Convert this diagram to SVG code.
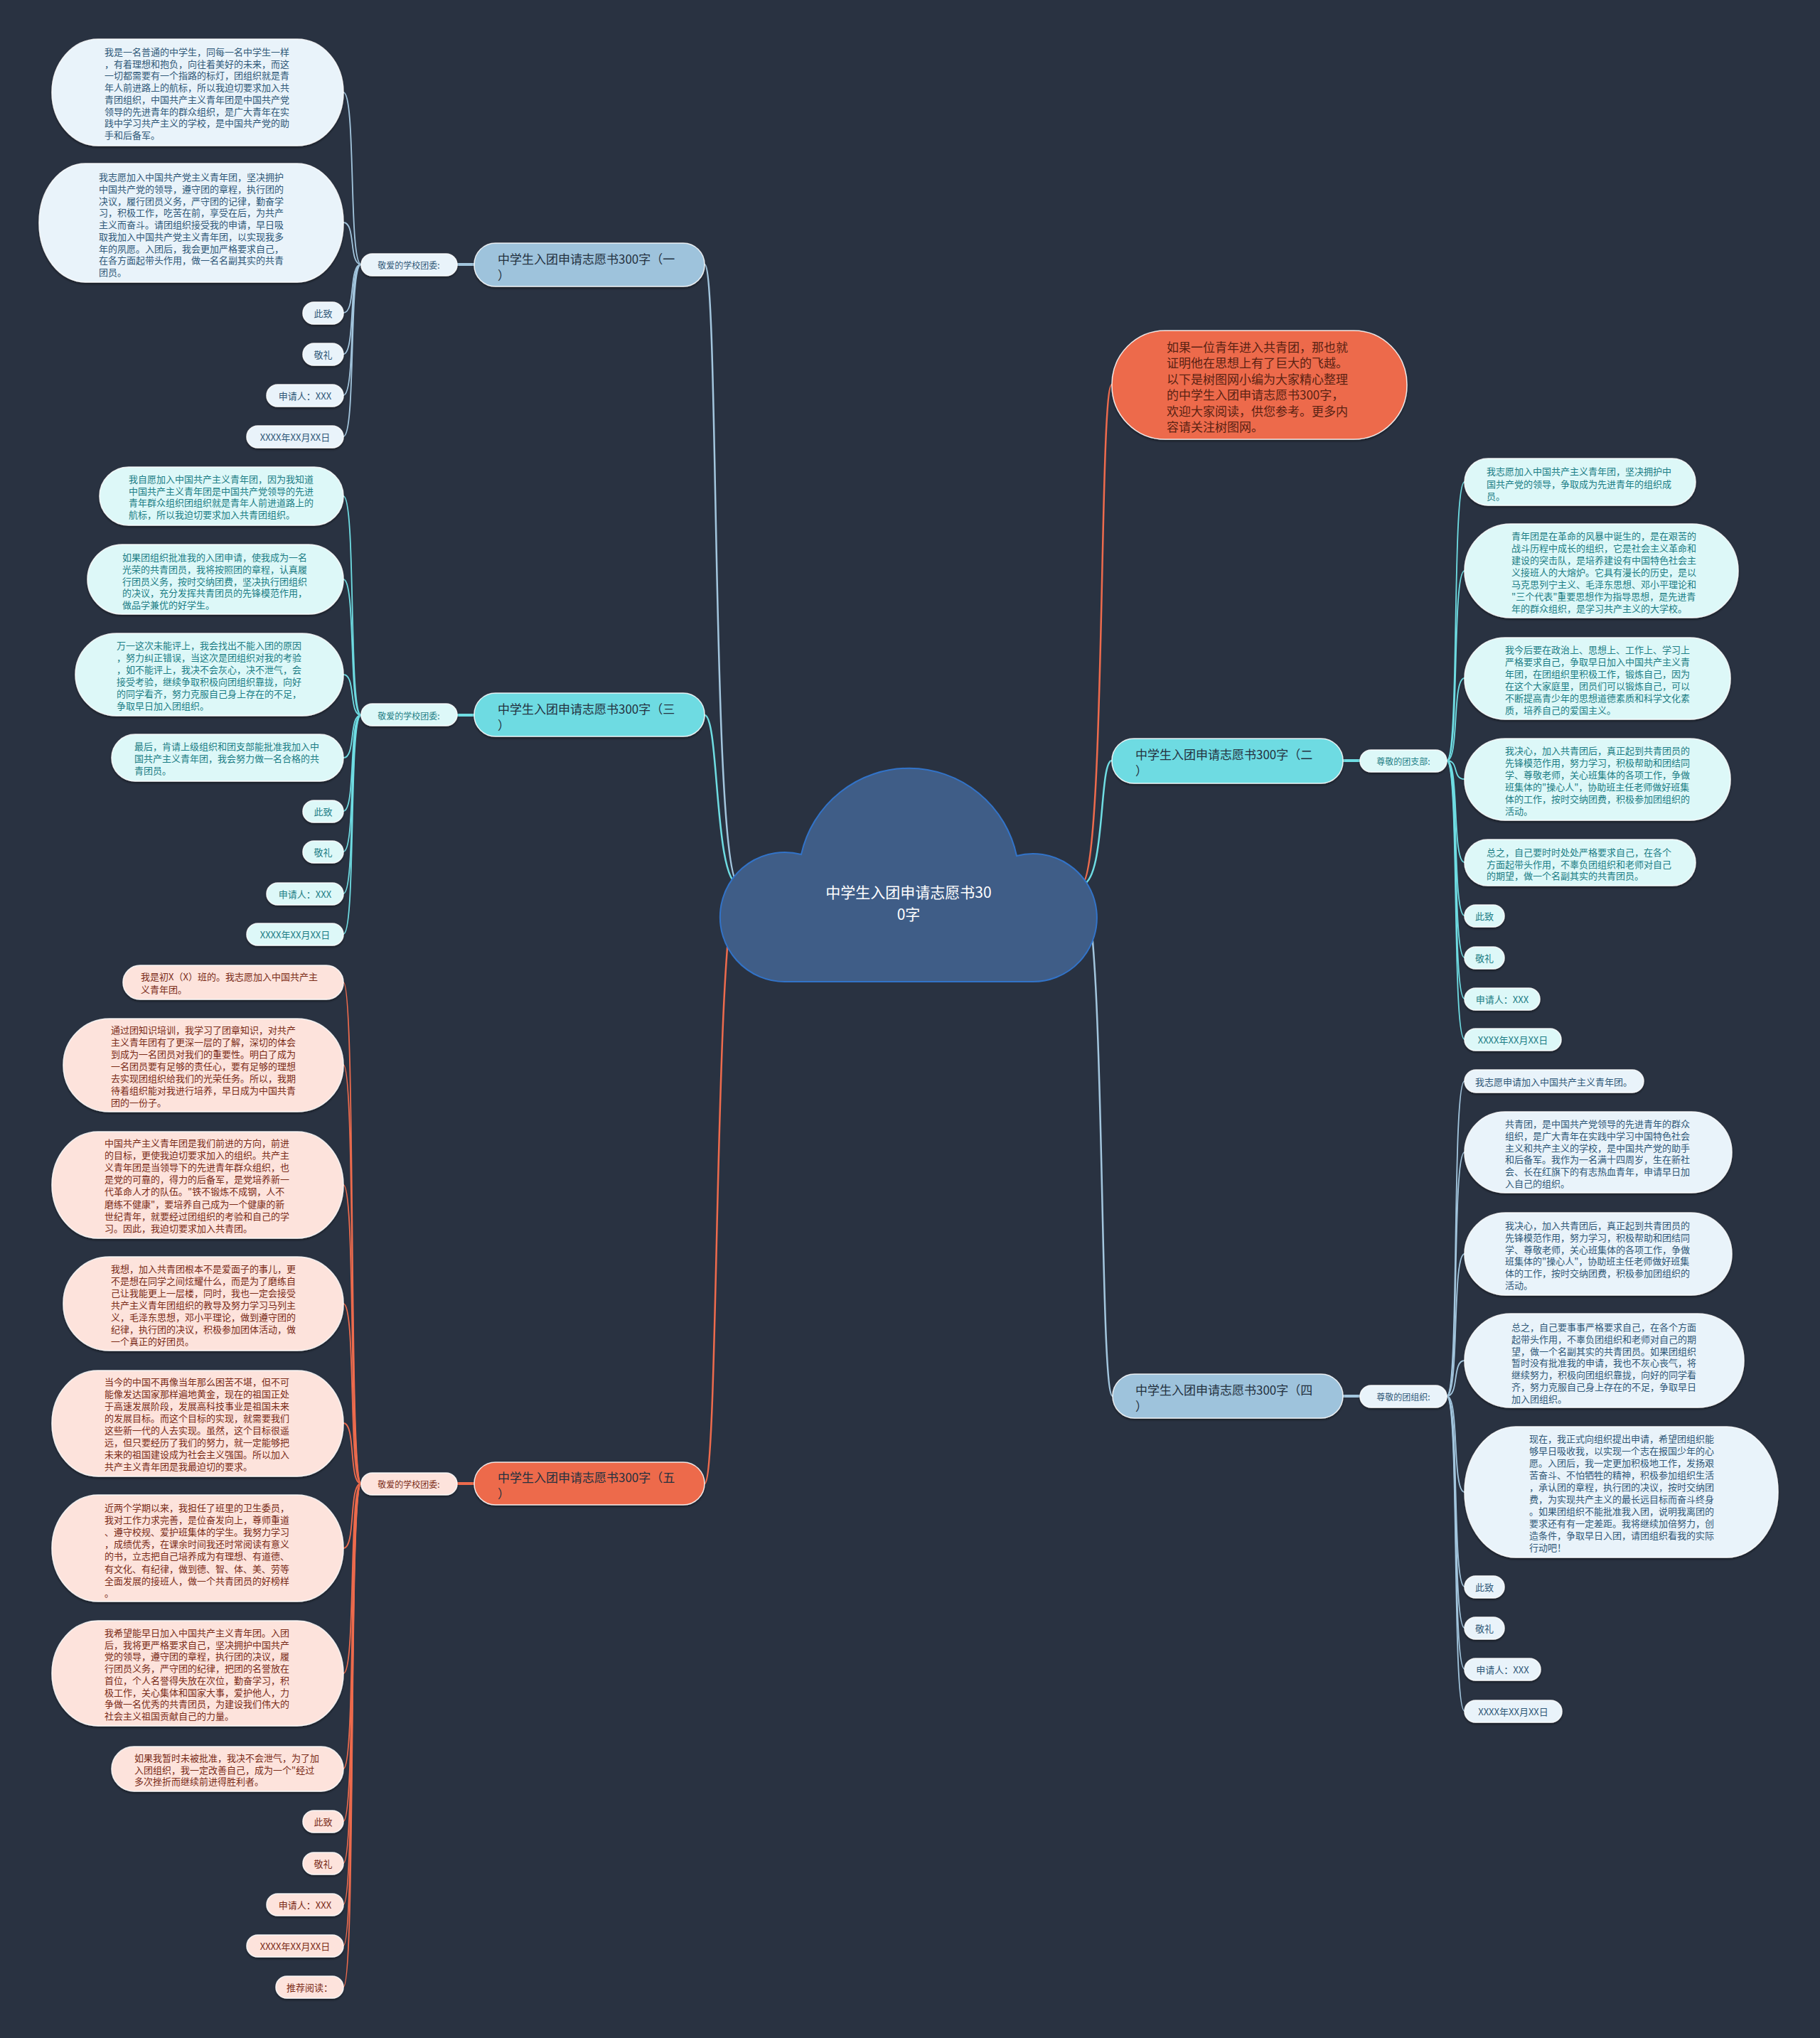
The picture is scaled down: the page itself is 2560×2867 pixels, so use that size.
<svg xmlns="http://www.w3.org/2000/svg" width="2560" height="2867" viewBox="0 0 2560 2867">
<defs>
<filter id="sh" x="-10%" y="-20%" width="120%" height="150%"><feDropShadow dx="0" dy="2" stdDeviation="1.5" flood-color="#000" flood-opacity="0.45"/></filter>
</defs>
<style>
.ln{fill:none;stroke-linecap:round}
.c1{stroke:#a3c6de}.c3{stroke:#6fdde3}.c5{stroke:#ee6b4d}
.tr{stroke-width:2.5}.lk{stroke-width:1.8}.bar{stroke-width:4}
.nd{stroke:#ffffff;stroke-opacity:.85;stroke-width:1.5;filter:url(#sh)}
.fb{fill:#9ec3dc}.fbl{fill:#e9f3fa}.fc{fill:#6edbe2}.fcl{fill:#ddf8f8}.fo{fill:#ed6a4c}.fol{fill:#fde3dc}
.t{font-family:"Noto Sans CJK SC","Noto Sans",sans-serif;dominant-baseline:central}
.s13{font-size:13px}.s12{font-size:12px}.s17{font-size:17px}.s21{font-size:21px}
.kb{fill:#2f5878}.kc{fill:#1b7d85}.ko{fill:#7a2b17}.kd{fill:#24313f}.ki{fill:#5a2213}.kw{fill:#ffffff}
.mid{text-anchor:middle}
</style>
<rect x="0" y="0" width="2560" height="2867" fill="#293241"/>

<g id="connectors">
<path class="ln c1 tr" d="M991 372 C1012 372 1000 1245 1040 1245"/>
<path class="ln c3 tr" d="M991 1006 C1012 1006 1004 1245 1040 1245"/>
<path class="ln c5 tr" d="M991 2087 C1012 2087 1004 1245 1040 1245"/>
<path class="ln c5 tr" d="M1564 541 C1545 541 1556 1245 1520 1245"/>
<path class="ln c3 tr" d="M1564 1070 C1545 1070 1556 1245 1520 1245"/>
<path class="ln c1 tr" d="M1565 1964 C1545 1964 1556 1245 1520 1245"/>
<path class="ln c1 bar" d="M643 372 L667 372"/>
<path class="ln c3 bar" d="M643 1006 L667 1006"/>
<path class="ln c5 bar" d="M643 2087 L667 2087"/>
<path class="ln c3 bar" d="M1889 1070 L1913 1070"/>
<path class="ln c1 bar" d="M1889 1964 L1913 1964"/>
<!-- branch 1 leaves -->
<path class="ln c1 lk" d="M508 372 C490 372 501 130 483 130"/>
<path class="ln c1 lk" d="M508 372 C490 372 501 313 483 313"/>
<path class="ln c1 lk" d="M508 372 C490 372 501 440 483 440"/>
<path class="ln c1 lk" d="M508 372 C490 372 501 498 483 498"/>
<path class="ln c1 lk" d="M508 372 C490 372 501 556 483 556"/>
<path class="ln c1 lk" d="M508 372 C490 372 501 614 483 614"/>
<!-- branch 3 leaves -->
<path class="ln c3 lk" d="M508 1006 C490 1006 501 698 483 698"/>
<path class="ln c3 lk" d="M508 1006 C490 1006 501 815 483 815"/>
<path class="ln c3 lk" d="M508 1006 C490 1006 501 949 483 949"/>
<path class="ln c3 lk" d="M508 1006 C490 1006 501 1066 483 1066"/>
<path class="ln c3 lk" d="M508 1006 C490 1006 501 1141 483 1141"/>
<path class="ln c3 lk" d="M508 1006 C490 1006 501 1198 483 1198"/>
<path class="ln c3 lk" d="M508 1006 C490 1006 501 1257 483 1257"/>
<path class="ln c3 lk" d="M508 1006 C490 1006 501 1314 483 1314"/>
<!-- branch 5 leaves -->
<path class="ln c5 lk" d="M508 2087 C490 2087 501 1382 483 1382"/>
<path class="ln c5 lk" d="M508 2087 C490 2087 501 1498 483 1498"/>
<path class="ln c5 lk" d="M508 2087 C490 2087 501 1667 483 1667"/>
<path class="ln c5 lk" d="M508 2087 C490 2087 501 1834 483 1834"/>
<path class="ln c5 lk" d="M508 2087 C490 2087 501 2002 483 2002"/>
<path class="ln c5 lk" d="M508 2087 C490 2087 501 2178 483 2178"/>
<path class="ln c5 lk" d="M508 2087 C490 2087 501 2354 483 2354"/>
<path class="ln c5 lk" d="M508 2087 C490 2087 501 2488 483 2488"/>
<path class="ln c5 lk" d="M508 2087 C490 2087 501 2562 483 2562"/>
<path class="ln c5 lk" d="M508 2087 C490 2087 501 2621 483 2621"/>
<path class="ln c5 lk" d="M508 2087 C490 2087 501 2679 483 2679"/>
<path class="ln c5 lk" d="M508 2087 C490 2087 501 2737 483 2737"/>
<path class="ln c5 lk" d="M508 2087 C490 2087 501 2795 483 2795"/>
<!-- branch 2 leaves -->
<path class="ln c3 lk" d="M2035 1070 C2053 1070 2042 678 2060 678"/>
<path class="ln c3 lk" d="M2035 1070 C2053 1070 2042 803 2060 803"/>
<path class="ln c3 lk" d="M2035 1070 C2053 1070 2042 954 2060 954"/>
<path class="ln c3 lk" d="M2035 1070 C2053 1070 2042 1096 2060 1096"/>
<path class="ln c3 lk" d="M2035 1070 C2053 1070 2042 1213 2060 1213"/>
<path class="ln c3 lk" d="M2035 1070 C2053 1070 2042 1288 2060 1288"/>
<path class="ln c3 lk" d="M2035 1070 C2053 1070 2042 1347 2060 1347"/>
<path class="ln c3 lk" d="M2035 1070 C2053 1070 2042 1405 2060 1405"/>
<path class="ln c3 lk" d="M2035 1070 C2053 1070 2042 1462 2060 1462"/>
<!-- branch 4 leaves -->
<path class="ln c1 lk" d="M2035 1964 C2053 1964 2042 1521 2060 1521"/>
<path class="ln c1 lk" d="M2035 1964 C2053 1964 2042 1621 2060 1621"/>
<path class="ln c1 lk" d="M2035 1964 C2053 1964 2042 1764 2060 1764"/>
<path class="ln c1 lk" d="M2035 1964 C2053 1964 2042 1914 2060 1914"/>
<path class="ln c1 lk" d="M2035 1964 C2053 1964 2042 2099 2060 2099"/>
<path class="ln c1 lk" d="M2035 1964 C2053 1964 2042 2232 2060 2232"/>
<path class="ln c1 lk" d="M2035 1964 C2053 1964 2042 2290 2060 2290"/>
<path class="ln c1 lk" d="M2035 1964 C2053 1964 2042 2348 2060 2348"/>
<path class="ln c1 lk" d="M2035 1964 C2053 1964 2042 2407 2060 2407"/>
</g>

<g id="center">
<path d="M1105 1381 A91 91 0 1 1 1127 1202 A155 155 0 0 1 1430 1204 A90 90 0 1 1 1450 1381 Z" fill="#3f5d87" stroke="#3273c8" stroke-width="2"/>
<text class="t s21 kw mid"><tspan x="1278" y="1254">中学生入团申请志愿书30</tspan><tspan x="1278" y="1285">0字</tspan></text>
</g>

<!-- Branch 1 -->
<g id="b1">
<rect class="nd fb" x="667" y="342" width="324" height="61" rx="30"/>
<text class="t s17 kd"><tspan x="700" y="363">中学生入团申请志愿书300字（一</tspan><tspan x="700" y="386">）</tspan></text>
</g>
<g id="b1-label">
<rect class="nd fbl" x="508" y="357" width="135" height="31" rx="15.5"/>
<text class="t s12 kb mid" x="575" y="372">敬爱的学校团委:</text>
</g>
<g id="b1-l1">
<rect class="nd fbl" x="73" y="55" width="410" height="150" rx="65" ry="75"/>
<text class="t s13 kb"><tspan x="147" y="72">我是一名普通的中学生，同每一名中学生一样</tspan><tspan x="147" y="88.7">，有着理想和抱负，向往着美好的未来，而这</tspan><tspan x="147" y="105.4">一切都需要有一个指路的标灯，团组织就是青</tspan><tspan x="147" y="122.1">年人前进路上的航标，所以我迫切要求加入共</tspan><tspan x="147" y="138.8">青团组织，中国共产主义青年团是中国共产党</tspan><tspan x="147" y="155.5">领导的先进青年的群众组织，是广大青年在实</tspan><tspan x="147" y="172.2">践中学习共产主义的学校，是中国共产党的助</tspan><tspan x="147" y="188.9">手和后备军。</tspan></text>
</g>
<g id="b1-l2">
<rect class="nd fbl" x="55" y="230" width="428" height="167" rx="65" ry="83"/>
<text class="t s13 kb"><tspan x="139" y="248">我志愿加入中国共产党主义青年团，坚决拥护</tspan><tspan x="139" y="264.75">中国共产党的领导，遵守团的章程，执行团的</tspan><tspan x="139" y="281.5">决议，履行团员义务，严守团的记律，勤奋学</tspan><tspan x="139" y="298.25">习，积极工作，吃苦在前，享受在后，为共产</tspan><tspan x="139" y="315">主义而奋斗。请团组织接受我的申请，早日吸</tspan><tspan x="139" y="331.75">取我加入中国共产党主义青年团，以实现我多</tspan><tspan x="139" y="348.5">年的夙愿。入团后，我会更加严格要求自己，</tspan><tspan x="139" y="365.25">在各方面起带头作用，做一名名副其实的共青</tspan><tspan x="139" y="382">团员。</tspan></text>
</g>
<g id="b1-l3"><rect class="nd fbl" x="426" y="425" width="57" height="31" rx="15.5"/><text class="t s13 kb mid" x="454.5" y="440.5">此致</text></g>
<g id="b1-l4"><rect class="nd fbl" x="426" y="483" width="57" height="31" rx="15.5"/><text class="t s13 kb mid" x="454.5" y="498.5">敬礼</text></g>
<g id="b1-l5"><rect class="nd fbl" x="375" y="541" width="108" height="31" rx="15.5"/><text class="t s13 kb mid" x="429" y="556.5">申请人：XXX</text></g>
<g id="b1-l6"><rect class="nd fbl" x="347" y="599" width="136" height="31" rx="15.5"/><text class="t s13 kb mid" x="415" y="614.5">XXXX年XX月XX日</text></g>

<!-- Branch 3 -->
<g id="b3">
<rect class="nd fc" x="667" y="975" width="324" height="61" rx="30"/>
<text class="t s17 kd"><tspan x="700" y="996">中学生入团申请志愿书300字（三</tspan><tspan x="700" y="1019">）</tspan></text>
</g>
<g id="b3-label">
<rect class="nd fcl" x="508" y="990" width="135" height="31" rx="15.5"/>
<text class="t s12 kc mid" x="575" y="1006">敬爱的学校团委:</text>
</g>
<g id="b3-l1">
<rect class="nd fcl" x="140" y="657" width="343" height="82" rx="41"/>
<text class="t s13 kc"><tspan x="181" y="673">我自愿加入中国共产主义青年团，因为我知道</tspan><tspan x="181" y="689.7">中国共产主义青年团是中国共产党领导的先进</tspan><tspan x="181" y="706.4">青年群众组织团组织就是青年人前进道路上的</tspan><tspan x="181" y="723.1">航标，所以我迫切要求加入共青团组织。</tspan></text>
</g>
<g id="b3-l2">
<rect class="nd fcl" x="123" y="766" width="360" height="98" rx="49"/>
<text class="t s13 kc"><tspan x="172" y="783">如果团组织批准我的入团申请，使我成为一名</tspan><tspan x="172" y="799.8">光荣的共青团员，我将按照团的章程，认真履</tspan><tspan x="172" y="816.6">行团员义务，按时交纳团费，坚决执行团组织</tspan><tspan x="172" y="833.4">的决议，充分发挥共青团员的先锋模范作用，</tspan><tspan x="172" y="850.2">做品学兼优的好学生。</tspan></text>
</g>
<g id="b3-l3">
<rect class="nd fcl" x="106" y="891" width="377" height="116" rx="58"/>
<text class="t s13 kc"><tspan x="164" y="907">万一这次未能评上，我会找出不能入团的原因</tspan><tspan x="164" y="924">，努力纠正错误，当这次是团组织对我的考验</tspan><tspan x="164" y="941">，如不能评上，我决不会灰心，决不泄气，会</tspan><tspan x="164" y="958">接受考验，继续争取积极向团组织靠拢，向好</tspan><tspan x="164" y="975">的同学看齐，努力克服自己身上存在的不足，</tspan><tspan x="164" y="992">争取早日加入团组织。</tspan></text>
</g>
<g id="b3-l4">
<rect class="nd fcl" x="157" y="1033" width="326" height="66" rx="33"/>
<text class="t s13 kc"><tspan x="189" y="1049">最后，肯请上级组织和团支部能批准我加入中</tspan><tspan x="189" y="1066">国共产主义青年团，我会努力做一名合格的共</tspan><tspan x="189" y="1083">青团员。</tspan></text>
</g>
<g id="b3-l5"><rect class="nd fcl" x="426" y="1126" width="57" height="31" rx="15.5"/><text class="t s13 kc mid" x="454.5" y="1141.5">此致</text></g>
<g id="b3-l6"><rect class="nd fcl" x="426" y="1183" width="57" height="31" rx="15.5"/><text class="t s13 kc mid" x="454.5" y="1198.5">敬礼</text></g>
<g id="b3-l7"><rect class="nd fcl" x="375" y="1242" width="108" height="31" rx="15.5"/><text class="t s13 kc mid" x="429" y="1257.5">申请人：XXX</text></g>
<g id="b3-l8"><rect class="nd fcl" x="347" y="1299" width="136" height="31" rx="15.5"/><text class="t s13 kc mid" x="415" y="1314.5">XXXX年XX月XX日</text></g>

<!-- Branch 5 -->
<g id="b5">
<rect class="nd fo" x="667" y="2057" width="324" height="60" rx="30"/>
<text class="t s17 kd"><tspan x="700" y="2077">中学生入团申请志愿书300字（五</tspan><tspan x="700" y="2100">）</tspan></text>
</g>
<g id="b5-label">
<rect class="nd fol" x="508" y="2072" width="135" height="31" rx="15.5"/>
<text class="t s12 ko mid" x="575" y="2087.5">敬爱的学校团委:</text>
</g>
<g id="b5-l1">
<rect class="nd fol" x="173" y="1358" width="310" height="48" rx="24"/>
<text class="t s13 ko"><tspan x="198" y="1373">我是初X（X）班的。我志愿加入中国共产主</tspan><tspan x="198" y="1391">义青年团。</tspan></text>
</g>
<g id="b5-l2">
<rect class="nd fol" x="89" y="1433" width="394" height="131" rx="65"/>
<text class="t s13 ko"><tspan x="156" y="1448">通过团知识培训，我学习了团章知识，对共产</tspan><tspan x="156" y="1465">主义青年团有了更深一层的了解，深切的体会</tspan><tspan x="156" y="1482">到成为一名团员对我们的重要性。明白了成为</tspan><tspan x="156" y="1499">一名团员要有足够的责任心，要有足够的理想</tspan><tspan x="156" y="1516">去实现团组织给我们的光荣任务。所以，我期</tspan><tspan x="156" y="1533">待着组织能对我进行培养，早日成为中国共青</tspan><tspan x="156" y="1550">团的一份子。</tspan></text>
</g>
<g id="b5-l3">
<rect class="nd fol" x="73" y="1592" width="410" height="150" rx="65" ry="75"/>
<text class="t s13 ko"><tspan x="147" y="1607">中国共产主义青年团是我们前进的方向，前进</tspan><tspan x="147" y="1624">的目标，更使我迫切要求加入的组织。共产主</tspan><tspan x="147" y="1641">义青年团是当领导下的先进青年群众组织，也</tspan><tspan x="147" y="1658">是党的可靠的，得力的后备军，是党培养新一</tspan><tspan x="147" y="1675">代革命人才的队伍。"铁不锻炼不成钢，人不</tspan><tspan x="147" y="1693">磨练不健康"，要培养自己成为一个健康的新</tspan><tspan x="147" y="1710">世纪青年，就要经过团组织的考验和自己的学</tspan><tspan x="147" y="1727">习。因此，我迫切要求加入共青团。</tspan></text>
</g>
<g id="b5-l4">
<rect class="nd fol" x="89" y="1768" width="394" height="132" rx="65"/>
<text class="t s13 ko"><tspan x="156" y="1784">我想，加入共青团根本不是爱面子的事儿，更</tspan><tspan x="156" y="1801">不是想在同学之间炫耀什么，而是为了磨练自</tspan><tspan x="156" y="1818">己让我能更上一层楼，同时，我也一定会接受</tspan><tspan x="156" y="1835">共产主义青年团组织的教导及努力学习马列主</tspan><tspan x="156" y="1852">义，毛泽东思想，邓小平理论，做到遵守团的</tspan><tspan x="156" y="1869">纪律，执行团的决议，积极参加团体活动，做</tspan><tspan x="156" y="1886">一个真正的好团员。</tspan></text>
</g>
<g id="b5-l5">
<rect class="nd fol" x="73" y="1928" width="410" height="149" rx="65" ry="74"/>
<text class="t s13 ko"><tspan x="147" y="1943">当今的中国不再像当年那么困苦不堪，但不可</tspan><tspan x="147" y="1960">能像发达国家那样遍地黄金，现在的祖国正处</tspan><tspan x="147" y="1977">于高速发展阶段，发展高科技事业是祖国未来</tspan><tspan x="147" y="1994">的发展目标。而这个目标的实现，就需要我们</tspan><tspan x="147" y="2011">这些新一代的人去实现。虽然，这个目标很遥</tspan><tspan x="147" y="2028">远，但只要经历了我们的努力，就一定能够把</tspan><tspan x="147" y="2045">未来的祖国建设成为社会主义强国。所以加入</tspan><tspan x="147" y="2062">共产主义青年团是我最迫切的要求。</tspan></text>
</g>
<g id="b5-l6">
<rect class="nd fol" x="73" y="2103" width="410" height="150" rx="65" ry="75"/>
<text class="t s13 ko"><tspan x="147" y="2120">近两个学期以来，我担任了班里的卫生委员，</tspan><tspan x="147" y="2137">我对工作力求完善，是位奋发向上，尊师重道</tspan><tspan x="147" y="2154">、遵守校规、爱护班集体的学生。我努力学习</tspan><tspan x="147" y="2171">，成绩优秀，在课余时间我还时常阅读有意义</tspan><tspan x="147" y="2188">的书，立志把自己培养成为有理想、有道德、</tspan><tspan x="147" y="2206">有文化、有纪律，做到德、智、体、美、劳等</tspan><tspan x="147" y="2223">全面发展的接班人，做一个共青团员的好榜样</tspan><tspan x="147" y="2240">。</tspan></text>
</g>
<g id="b5-l7">
<rect class="nd fol" x="73" y="2280" width="410" height="148" rx="65" ry="74"/>
<text class="t s13 ko"><tspan x="147" y="2296">我希望能早日加入中国共产主义青年团。入团</tspan><tspan x="147" y="2313">后，我将更严格要求自己，坚决拥护中国共产</tspan><tspan x="147" y="2329">党的领导，遵守团的章程，执行团的决议，履</tspan><tspan x="147" y="2346">行团员义务，严守团的纪律，把团的名誉放在</tspan><tspan x="147" y="2363">首位，个人名誉得失放在次位，勤奋学习，积</tspan><tspan x="147" y="2380">极工作，关心集体和国家大事，爱护他人，力</tspan><tspan x="147" y="2396">争做一名优秀的共青团员，为建设我们伟大的</tspan><tspan x="147" y="2413">社会主义祖国贡献自己的力量。</tspan></text>
</g>
<g id="b5-l8">
<rect class="nd fol" x="157" y="2457" width="326" height="63" rx="31.5"/>
<text class="t s13 ko"><tspan x="189" y="2472">如果我暂时未被批准，我决不会泄气，为了加</tspan><tspan x="189" y="2488.5">入团组织，我一定改善自己，成为一个"经过</tspan><tspan x="189" y="2505">多次挫折而继续前进得胜利者。</tspan></text>
</g>
<g id="b5-l9"><rect class="nd fol" x="426" y="2547" width="57" height="31" rx="15.5"/><text class="t s13 ko mid" x="454.5" y="2562.5">此致</text></g>
<g id="b5-l10"><rect class="nd fol" x="426" y="2606" width="57" height="31" rx="15.5"/><text class="t s13 ko mid" x="454.5" y="2621.5">敬礼</text></g>
<g id="b5-l11"><rect class="nd fol" x="375" y="2664" width="108" height="31" rx="15.5"/><text class="t s13 ko mid" x="429" y="2679.5">申请人：XXX</text></g>
<g id="b5-l12"><rect class="nd fol" x="347" y="2722" width="136" height="31" rx="15.5"/><text class="t s13 ko mid" x="415" y="2737.5">XXXX年XX月XX日</text></g>
<g id="b5-l13"><rect class="nd fol" x="388" y="2780" width="95" height="31" rx="15.5"/><text class="t s13 ko mid" x="435.5" y="2795.5">推荐阅读：</text></g>

<!-- Intro -->
<g id="intro">
<rect class="nd fo" x="1564" y="465" width="415" height="153" rx="75" ry="76"/>
<text class="t s17 ki"><tspan x="1641" y="487">如果一位青年进入共青团，那也就</tspan><tspan x="1641" y="509.4">证明他在思想上有了巨大的飞越。</tspan><tspan x="1641" y="531.8">以下是树图网小编为大家精心整理</tspan><tspan x="1641" y="554.2">的中学生入团申请志愿书300字，</tspan><tspan x="1641" y="576.6">欢迎大家阅读，供您参考。更多内</tspan><tspan x="1641" y="599">容请关注树图网。</tspan></text>
</g>

<!-- Branch 2 -->
<g id="b2">
<rect class="nd fc" x="1564" y="1039" width="325" height="63" rx="31"/>
<text class="t s17 kd"><tspan x="1597" y="1060">中学生入团申请志愿书300字（二</tspan><tspan x="1597" y="1083">）</tspan></text>
</g>
<g id="b2-label">
<rect class="nd fcl" x="1913" y="1055" width="122" height="31" rx="15.5"/>
<text class="t s12 kc mid" x="1974" y="1070.5">尊敬的团支部:</text>
</g>
<g id="b2-l1">
<rect class="nd fcl" x="2060" y="645" width="325" height="66" rx="33"/>
<text class="t s13 kc"><tspan x="2091" y="662">我志愿加入中国共产主义青年团，坚决拥护中</tspan><tspan x="2091" y="679.5">国共产党的领导，争取成为先进青年的组织成</tspan><tspan x="2091" y="697">员。</tspan></text>
</g>
<g id="b2-l2">
<rect class="nd fcl" x="2060" y="737" width="385" height="132" rx="65" ry="66"/>
<text class="t s13 kc"><tspan x="2126" y="753">青年团是在革命的风暴中诞生的，是在艰苦的</tspan><tspan x="2126" y="770">战斗历程中成长的组织，它是社会主义革命和</tspan><tspan x="2126" y="787">建设的突击队，是培养建设有中国特色社会主</tspan><tspan x="2126" y="804">义接班人的大熔炉。它具有漫长的历史，是以</tspan><tspan x="2126" y="821">马克思列宁主义、毛泽东思想、邓小平理论和</tspan><tspan x="2126" y="838">"三个代表"重要思想作为指导思想，是先进青</tspan><tspan x="2126" y="855">年的群众组织，是学习共产主义的大学校。</tspan></text>
</g>
<g id="b2-l3">
<rect class="nd fcl" x="2060" y="897" width="374" height="115" rx="57"/>
<text class="t s13 kc"><tspan x="2117" y="913">我今后要在政治上、思想上、工作上、学习上</tspan><tspan x="2117" y="930">严格要求自己，争取早日加入中国共产主义青</tspan><tspan x="2117" y="947">年团，在团组织里积极工作，锻炼自己，因为</tspan><tspan x="2117" y="964">在这个大家庭里，团员们可以锻炼自己，可以</tspan><tspan x="2117" y="981">不断提高青少年的思想道德素质和科学文化素</tspan><tspan x="2117" y="998">质，培养自己的爱国主义。</tspan></text>
</g>
<g id="b2-l4">
<rect class="nd fcl" x="2060" y="1039" width="374" height="115" rx="57"/>
<text class="t s13 kc"><tspan x="2117" y="1055">我决心，加入共青团后，真正起到共青团员的</tspan><tspan x="2117" y="1072">先锋模范作用，努力学习，积极帮助和团结同</tspan><tspan x="2117" y="1089">学、尊敬老师，关心班集体的各项工作，争做</tspan><tspan x="2117" y="1106">班集体的"操心人"，协助班主任老师做好班集</tspan><tspan x="2117" y="1123">体的工作，按时交纳团费，积极参加团组织的</tspan><tspan x="2117" y="1140">活动。</tspan></text>
</g>
<g id="b2-l5">
<rect class="nd fcl" x="2060" y="1181" width="325" height="65" rx="32.5"/>
<text class="t s13 kc"><tspan x="2091" y="1198">总之，自己要时时处处严格要求自己，在各个</tspan><tspan x="2091" y="1214.5">方面起带头作用，不辜负团组织和老师对自己</tspan><tspan x="2091" y="1231">的期望，做一个名副其实的共青团员。</tspan></text>
</g>
<g id="b2-l6"><rect class="nd fcl" x="2060" y="1273" width="56" height="31" rx="15.5"/><text class="t s13 kc mid" x="2088" y="1288.5">此致</text></g>
<g id="b2-l7"><rect class="nd fcl" x="2060" y="1332" width="56" height="31" rx="15.5"/><text class="t s13 kc mid" x="2088" y="1347.5">敬礼</text></g>
<g id="b2-l8"><rect class="nd fcl" x="2060" y="1390" width="106" height="31" rx="15.5"/><text class="t s13 kc mid" x="2113" y="1405.5">申请人：XXX</text></g>
<g id="b2-l9"><rect class="nd fcl" x="2060" y="1447" width="136" height="31" rx="15.5"/><text class="t s13 kc mid" x="2128" y="1462.5">XXXX年XX月XX日</text></g>

<!-- Branch 4 -->
<g id="b4">
<rect class="nd fb" x="1565" y="1933" width="324" height="62" rx="31"/>
<text class="t s17 kd"><tspan x="1597" y="1954">中学生入团申请志愿书300字（四</tspan><tspan x="1597" y="1977">）</tspan></text>
</g>
<g id="b4-label">
<rect class="nd fbl" x="1913" y="1949" width="122" height="31" rx="15.5"/>
<text class="t s12 kb mid" x="1974" y="1964.5">尊敬的团组织:</text>
</g>
<g id="b4-l1">
<rect class="nd fbl" x="2060" y="1505" width="252" height="32" rx="16"/>
<text class="t s13 kb" x="2075" y="1521">我志愿申请加入中国共产主义青年团。</text>
</g>
<g id="b4-l2">
<rect class="nd fbl" x="2060" y="1564" width="376" height="114" rx="57"/>
<text class="t s13 kb"><tspan x="2117" y="1580">共青团，是中国共产党领导的先进青年的群众</tspan><tspan x="2117" y="1597">组织，是广大青年在实践中学习中国特色社会</tspan><tspan x="2117" y="1614">主义和共产主义的学校，是中国共产党的助手</tspan><tspan x="2117" y="1630">和后备军。我作为一名满十四周岁，生在新社</tspan><tspan x="2117" y="1647">会、长在红旗下的有志热血青年，申请早日加</tspan><tspan x="2117" y="1664">入自己的组织。</tspan></text>
</g>
<g id="b4-l3">
<rect class="nd fbl" x="2060" y="1706" width="376" height="116" rx="58"/>
<text class="t s13 kb"><tspan x="2117" y="1723">我决心，加入共青团后，真正起到共青团员的</tspan><tspan x="2117" y="1740">先锋模范作用，努力学习，积极帮助和团结同</tspan><tspan x="2117" y="1757">学、尊敬老师，关心班集体的各项工作，争做</tspan><tspan x="2117" y="1773">班集体的"操心人"，协助班主任老师做好班集</tspan><tspan x="2117" y="1790">体的工作，按时交纳团费，积极参加团组织的</tspan><tspan x="2117" y="1807">活动。</tspan></text>
</g>
<g id="b4-l4">
<rect class="nd fbl" x="2060" y="1848" width="393" height="132" rx="65" ry="66"/>
<text class="t s13 kb"><tspan x="2126" y="1866">总之，自己要事事严格要求自己，在各个方面</tspan><tspan x="2126" y="1883">起带头作用，不辜负团组织和老师对自己的期</tspan><tspan x="2126" y="1900">望，做一个名副其实的共青团员。如果团组织</tspan><tspan x="2126" y="1916">暂时没有批准我的申请，我也不灰心丧气，将</tspan><tspan x="2126" y="1933">继续努力，积极向团组织靠拢，向好的同学看</tspan><tspan x="2126" y="1950">齐，努力克服自己身上存在的不足，争取早日</tspan><tspan x="2126" y="1967">加入团组织。</tspan></text>
</g>
<g id="b4-l5">
<rect class="nd fbl" x="2060" y="2007" width="441" height="184" rx="72" ry="92"/>
<text class="t s13 kb"><tspan x="2151" y="2023">现在，我正式向组织提出申请，希望团组织能</tspan><tspan x="2151" y="2040">够早日吸收我，以实现一个志在报国少年的心</tspan><tspan x="2151" y="2057">愿。入团后，我一定更加积极地工作，发扬艰</tspan><tspan x="2151" y="2074">苦奋斗、不怕牺牲的精神，积极参加组织生活</tspan><tspan x="2151" y="2091">，承认团的章程，执行团的决议，按时交纳团</tspan><tspan x="2151" y="2108">费，为实现共产主义的最长远目标而奋斗终身</tspan><tspan x="2151" y="2125">。如果团组织不能批准我入团，说明我离团的</tspan><tspan x="2151" y="2142">要求还有有一定差距。我将继续加倍努力，创</tspan><tspan x="2151" y="2159">造条件，争取早日入团，请团组织看我的实际</tspan><tspan x="2151" y="2176">行动吧！</tspan></text>
</g>
<g id="b4-l6"><rect class="nd fbl" x="2060" y="2217" width="56" height="31" rx="15.5"/><text class="t s13 kb mid" x="2088" y="2232.5">此致</text></g>
<g id="b4-l7"><rect class="nd fbl" x="2060" y="2275" width="56" height="31" rx="15.5"/><text class="t s13 kb mid" x="2088" y="2290.5">敬礼</text></g>
<g id="b4-l8"><rect class="nd fbl" x="2060" y="2333" width="107" height="31" rx="15.5"/><text class="t s13 kb mid" x="2113.5" y="2348.5">申请人：XXX</text></g>
<g id="b4-l9"><rect class="nd fbl" x="2060" y="2392" width="137" height="31" rx="15.5"/><text class="t s13 kb mid" x="2128.5" y="2407.5">XXXX年XX月XX日</text></g>
</svg>
